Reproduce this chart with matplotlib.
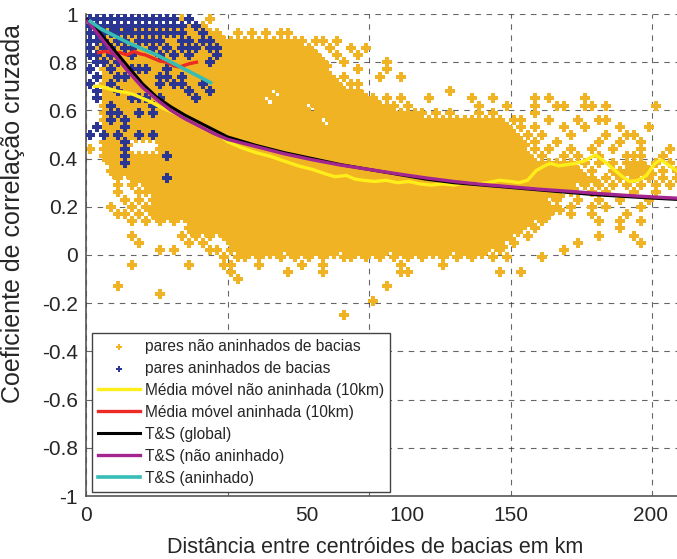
import numpy as np
import matplotlib
matplotlib.use("Agg")
import matplotlib.pyplot as plt

plt.rcParams['font.family'] = ['Liberation Sans', 'DejaVu Sans']
plt.rcParams['axes.unicode_minus'] = False

# scatter clouds transcribed as occupancy maps:
# columns are 2.5 km wide, rows are 0.03 high, first row at 0.98.
# '+' = one pair in the cell, '#' = dense cell (two pairs), '|' every 10 columns
CELL_X = 2.5
CELL_Y = 0.03
TOP_Y = 0.98

yellow_map = [
    ".+++++++++|++++...+..",
    ".#########|#######...",
    ".#########|#########.|.+.+.+.++.",
    ".#########|##########|##########|+.++.+....",
    ".#########|##########|##########|##..+..+.+",
    ".#########|##########|##########|###..+..+.",
    "..########|##########|##########|####..+...|..+.......",
    "..########|##########|##########|####....+.|..+.......",
    "..########|##########|##########|#####.+...|.+..+.....",
    "..########|##########|##########|######.++.",
    "..########|##########|######.###|#########.|..........|.+........",
    "..########|##########|#####.####|##########|#.+.+...+.|....+..+..|...+.+....|+.........",
    "..########|##########|##########|#.########|###+.+....|.....+...+|...+..++..|++.+......|+...",
    "..########|##########|##########|##########|#######+.+|.+...+.+..|...+......",
    "..########|##########|##########|###.######|##########|#########.|++...+...+|..++......",
    "..########|##########|##########|##########|##########|##########|.+.+...+..|+....+...+",
    "..########|##########|##########|##########|##########|##########|#.+.+...+.|...+..++..",
    "..####....|##########|##########|##########|##########|##########|##.+..+...|..+..+..+.",
    "+.####....|##########|##########|##########|##########|##########|##.+.+..+.|.+..+...+.|..+.",
    "..########|##########|##########|##########|##########|##########|###.+..+.+|..+...+++.|.+..",
    "...#######|##########|##########|##########|##########|##########|#########.|+.+.+.###.|+.+.",
    "...#######|##########|##########|##########|##########|##########|##########|.+..######|.+.+",
    "....+.####|##########|##########|##########|##########|##########|##########|##.+.+.+.+|.+.+",
    "....+.+.##|##########|##########|##########|##########|##########|#########.|+.+.+.+.+.|+.+.",
    "....+..++#|##########|##########|##########|##########|##########|#######.+.|.+.+...+..|+...",
    ".....+.+.#|##########|##########|##########|##########|##########|#####.+..+|..+..+...+",
    "...+..+.##|##########|##########|##########|##########|##########|#######.+.|.+.+....+.",
    "....++.+.#|##########|##########|##########|##########|##########|#####+..+.|.+....+...",
    "......+.+.|+.+.######|##########|##########|##########|##########|###.+.....|..+..+..+.",
    "..........|....######|##########|##########|##########|##########|#+.+......|.....+....",
    "......+...|...+.+.+.#|##########|##########|##########|##########|..+.......|..+....+..",
    ".......+..|....+.+...|##########|##########|##########|#########.|+........+|........+.",
    "..........|+.+....++.|+######+##|#####+####|##+#######|#+####+.+.|.......+..",
    "..........|.........+|.++.+..+.+|.+.+..++.+|.+.+.+.+..|+.+.+..+.+|....+.....",
    "......+...|....+....+|+...+.....|+..+......|....+.....|+.........",
    "..........|..........|+.......+.|...+......|....++....|........+.|.+........",
    "..........|..........|.+........",
    "....+.....|..........|..........|..........|..+.......",
    "..........|+.........",
    "..........|..........|..........|..........|+.........",
    "",
    "..........|..........|..........|......+...",
]

blue_map = [
    "++++++++++|+++.+.....",
    "+#+#+#++++|++++.+....",
    "++++++++++|++++..+...",
    "+++.++.+++|+..++.++..",
    "+.++.++..+|.+.+++.++.",
    "++.+..+...|+.+.+...+.",
    ".++.+.....|.......+..",
    "+..+..+++.|.+........",
    ".+..++....|++.+......",
    "+..+......|+.++..+...",
    ".+..+.....|....+..+..",
    ".+....+++.|+....+....",
    "...+.....+",
    "...++..+.+",
    "...+.+....",
    ".+...+....",
    "+.+.+..+.+",
    ".....+....",
    ".....+....",
    ".....+....|.+........",
    ".....+....",
    "",
    "..........|.+........",
]

# moving averages (10 km) and T&S fits
ma_free_x = [3, 5, 8, 11, 14, 17, 20, 23, 26, 29, 32, 35, 38, 41, 44, 47, 50, 55, 60,
             65, 70, 75, 80, 85, 88, 92, 95, 98, 102, 106, 110, 114, 118, 122, 126, 130,
             134, 138, 142, 146, 150, 153, 156, 159, 162, 164, 167, 170, 173, 176, 180,
             183, 186, 189, 192, 195, 198, 201, 203, 205, 208, 210]
ma_free_y = [0.70, 0.70, 0.69, 0.68, 0.675, 0.665, 0.65, 0.635, 0.615, 0.60, 0.585, 0.57,
             0.555, 0.54, 0.52, 0.50, 0.47, 0.445, 0.425, 0.41, 0.39, 0.37, 0.355, 0.335,
             0.325, 0.33, 0.315, 0.31, 0.305, 0.31, 0.30, 0.305, 0.295, 0.29, 0.295, 0.29,
             0.30, 0.295, 0.30, 0.31, 0.305, 0.30, 0.31, 0.35, 0.37, 0.38, 0.37, 0.375,
             0.38, 0.39, 0.415, 0.39, 0.36, 0.33, 0.305, 0.31, 0.33, 0.38, 0.395, 0.38,
             0.355, 0.34]

ma_nest_x = [4.5, 7, 10, 12, 14.5, 17, 19, 21, 23, 26, 28.5, 31, 33, 35.5, 37, 39]
ma_nest_y = [0.84, 0.845, 0.835, 0.84, 0.83, 0.845, 0.835, 0.83, 0.82, 0.805, 0.80,
             0.785, 0.78, 0.79, 0.795, 0.80]

ts_x = [0.5, 2, 5, 10, 15, 20, 25, 30, 35, 40, 45, 50, 60, 70, 80, 90, 100, 110, 120,
        130, 140, 150, 160, 170, 180, 190, 200, 210]
ts_global = [0.975, 0.96, 0.92, 0.85, 0.78, 0.71, 0.655, 0.615, 0.58, 0.55, 0.52, 0.49,
             0.455, 0.425, 0.40, 0.375, 0.355, 0.335, 0.315, 0.30, 0.29, 0.28, 0.27,
             0.26, 0.25, 0.243, 0.236, 0.23]
ts_free = [0.97, 0.95, 0.905, 0.83, 0.76, 0.695, 0.645, 0.60, 0.565, 0.535, 0.505, 0.48,
           0.45, 0.42, 0.395, 0.373, 0.355, 0.337, 0.32, 0.305, 0.293, 0.283, 0.273,
           0.265, 0.256, 0.248, 0.241, 0.235]

ts_nest_x = [1.5, 5, 10, 15, 20, 25, 30, 35, 40, 44]
ts_nest_y = [0.97, 0.94, 0.91, 0.88, 0.855, 0.83, 0.80, 0.77, 0.74, 0.715]

yticks = [-1, -0.8, -0.6, -0.4, -0.2, 0, 0.2, 0.4, 0.6, 0.8, 1]
ytick_labels = ['-1', '-0.8', '-0.6', '-0.4', '-0.2', '0', '0.2', '0.4', '0.6', '0.8', '1']
xgrid = [0, 50, 100, 150, 200]
# the printed labels sit off the grid lines in the original
xlabel_pos = [0, 78, 113.4, 150.2, 199.3]
xlabel_txt = ['0', '50', '100', '150', '200']


def map_points(rows):
    xs, ys = [], []
    for r, row in enumerate(rows):
        row = row.replace("|", "")
        for c, ch in enumerate(row):
            if ch == ".":
                continue
            x = CELL_X * (c + 0.5)
            y = TOP_Y - CELL_Y * r
            xs.append(x)
            ys.append(y)
            if ch == "#":
                xs.append(x + CELL_X / 2)
                ys.append(y - CELL_Y / 2)
    return np.array(xs), np.array(ys)


yx, yy = map_points(yellow_map)
bx, by = map_points(blue_map)

fig = plt.figure(figsize=(6.77, 5.59), dpi=100)
ax = fig.add_axes([86 / 677, 1 - 496 / 559, 1 - 86 / 677, (496 - 14) / 559])

ax.scatter(yx, yy, marker='P', s=44, c='#F0B323', linewidths=0, zorder=2,
           label='pares não aninhados de bacias')
ax.scatter(bx, by, marker='P', s=46, c='#2B3592', linewidths=0, zorder=3,
           label='pares aninhados de bacias')

ax.plot(ma_free_x, ma_free_y, color='#FFEE1A', lw=2.4, zorder=4,
        label='Média móvel não aninhada (10km)')
ax.plot(ma_nest_x, ma_nest_y, color='#EE2A24', lw=2.4, zorder=4,
        label='Média móvel aninhada (10km)')
ax.plot(ts_x, ts_global, color='black', lw=2.2, zorder=5, label='T&S (global)')
ax.plot(ts_x, ts_free, color='#A3258F', lw=2.4, zorder=6, label='T&S (não aninhado)')
ax.plot(ts_nest_x, ts_nest_y, color='#35BDB6', lw=2.6, zorder=6, label='T&S (aninhado)')

ax.set_xlim(0, 208.8)
ax.set_ylim(-1, 1)

ax.xaxis.remove_overlapping_locs = False
ax.set_xticks(xgrid)
ax.set_xticklabels([''] * len(xgrid))
ax.set_xticks(xlabel_pos, labels=xlabel_txt, minor=True)
ax.set_yticks(yticks, labels=ytick_labels)
ax.tick_params(axis='x', which='major', length=0)
ax.tick_params(axis='x', which='minor', length=0, pad=7, labelsize=15, labelcolor='#262626')
ax.tick_params(axis='y', length=0, pad=6, labelsize=15, labelcolor='#262626')

ax.grid(which='major', color='#333333', linestyle=(0, (5, 5)), lw=0.8, alpha=0.75)
ax.set_axisbelow(True)
for side in ['top', 'right']:
    ax.spines[side].set_visible(False)
for side in ['left', 'bottom']:
    ax.spines[side].set_color('#555555')
    ax.spines[side].set_linewidth(1.2)

ax.set_ylabel('Coeficiente de correlação cruzada', fontsize=18, color='#262626')
ax.yaxis.set_label_coords(-0.103, 0.587)
ax.set_xlabel('Distância entre centróides de bacias em km', fontsize=15.5, color='#262626')
ax.xaxis.set_label_coords(0.49, -0.086)

leg = ax.legend(loc='lower left', bbox_to_anchor=(0.0102, 0.0083), borderaxespad=0,
                fontsize=11.2, handlelength=2.7, handletextpad=0.3, labelspacing=0.45,
                markerscale=0.6, fancybox=False, framealpha=1, edgecolor='#444444',
                borderpad=0.4)
leg.get_frame().set_linewidth(1.0)
for t in leg.get_texts():
    t.set_color('#262626')

fig.savefig('out.png', dpi=100)
